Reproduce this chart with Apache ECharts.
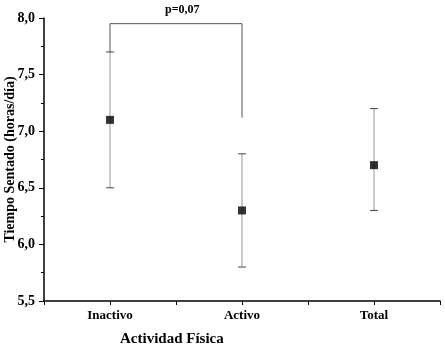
<!DOCTYPE html>
<html>
<head>
<meta charset="utf-8">
<script src="https://cdn.jsdelivr.net/npm/echarts@6/dist/echarts.min.js"></script>
<style>
  html, body { margin: 0; padding: 0; background: #fff; }
  #main { width: 445px; height: 352px; }
</style>
</head>
<body>
<div id="main"></div>
<script>
// datos
var categorias = ['Inactivo', 'Activo', 'Total'];
var medias = [7.1, 6.3, 6.7];
var limInf = [6.5, 5.8, 6.3];
var limSup = [7.7, 6.8, 7.2];
var yTicks = ['5,5', '6,0', '6,5', '7,0', '7,5', '8,0'];
var pValor = 'p=0,07';
var corchete = [[1, 7.7], [1, 7.95], [2, 7.95], [2, 7.12]];

var fuente = '"Liberation Serif", "Times New Roman", serif';

var puntos = medias.map(function (v, i) { return [i + 1, v]; });
var barras = medias.map(function (v, i) { return [i + 1, limInf[i], limSup[i]]; });

var myChart = echarts.init(document.getElementById('main'));
var option = {
    animation: false,
    grid: { left: 44, right: 5, top: 18, bottom: 51, outerBoundsMode: 'none', containLabel: false },
    xAxis: {
        type: 'value',
        min: 0.5,
        max: 3.5,
        interval: 0.5,
        axisLine: { lineStyle: { color: '#000', width: 1.5 } },
        axisTick: { show: true, inside: false, length: 4, lineStyle: { color: '#000' } },
        axisLabel: {
            fontFamily: fuente, fontWeight: 'bold', fontSize: 13, color: '#000', margin: 8,
            formatter: function (v) {
                return Number.isInteger(v) && v >= 1 && v <= 3 ? categorias[v - 1] : '';
            }
        },
        splitLine: { show: false }
    },
    yAxis: {
        type: 'value',
        min: 5.5,
        max: 8,
        interval: 0.5,
        axisLine: { show: true, lineStyle: { color: '#000', width: 1.5 } },
        axisTick: { show: true, length: 5, lineStyle: { color: '#000' } },
        minorTick: { show: true, splitNumber: 2, length: 3, lineStyle: { color: '#000' } },
        axisLabel: {
            fontFamily: fuente, fontWeight: 'bold', fontSize: 14, color: '#000', margin: 9,
            formatter: function (v) { return yTicks[Math.round((v - 5.5) / 0.5)]; }
        },
        name: 'Tiempo Sentado (horas/día)',
        nameLocation: 'middle',
        nameGap: 27,
        nameMoveOverlap: false,
        nameTextStyle: { fontFamily: fuente, fontWeight: 'bold', fontSize: 14, color: '#000' },
        splitLine: { show: false }
    },
    graphic: [
        {
            type: 'text', left: 120, top: 332,
            style: { text: 'Actividad Física', font: 'bold 15px ' + fuente, fill: '#000' }
        },
        {
            type: 'text', left: 165, top: 4,
            style: { text: pValor, font: 'bold 12px ' + fuente, fill: '#000' }
        }
    ],
    series: [
        {
            type: 'custom',
            data: barras,
            z: 2,
            renderItem: function (params, api) {
                var x = api.value(0);
                var lo = api.coord([x, api.value(1)]);
                var hi = api.coord([x, api.value(2)]);
                var w = 4;
                return {
                    type: 'group',
                    children: [
                        { type: 'line', shape: { x1: lo[0], y1: lo[1], x2: hi[0], y2: hi[1] }, style: { stroke: '#999', lineWidth: 1 } },
                        { type: 'line', shape: { x1: lo[0] - w, y1: lo[1], x2: lo[0] + w, y2: lo[1] }, style: { stroke: '#444', lineWidth: 1 } },
                        { type: 'line', shape: { x1: hi[0] - w, y1: hi[1], x2: hi[0] + w, y2: hi[1] }, style: { stroke: '#444', lineWidth: 1 } }
                    ]
                };
            }
        },
        {
            type: 'line',
            data: corchete,
            symbol: 'none',
            z: 1,
            lineStyle: { color: '#555', width: 1 }
        },
        {
            type: 'scatter',
            data: puntos,
            symbol: 'rect',
            symbolSize: 8,
            z: 3,
            itemStyle: { color: '#000' }
        }
    ]
};
myChart.setOption(option);
</script>
</body>
</html>
